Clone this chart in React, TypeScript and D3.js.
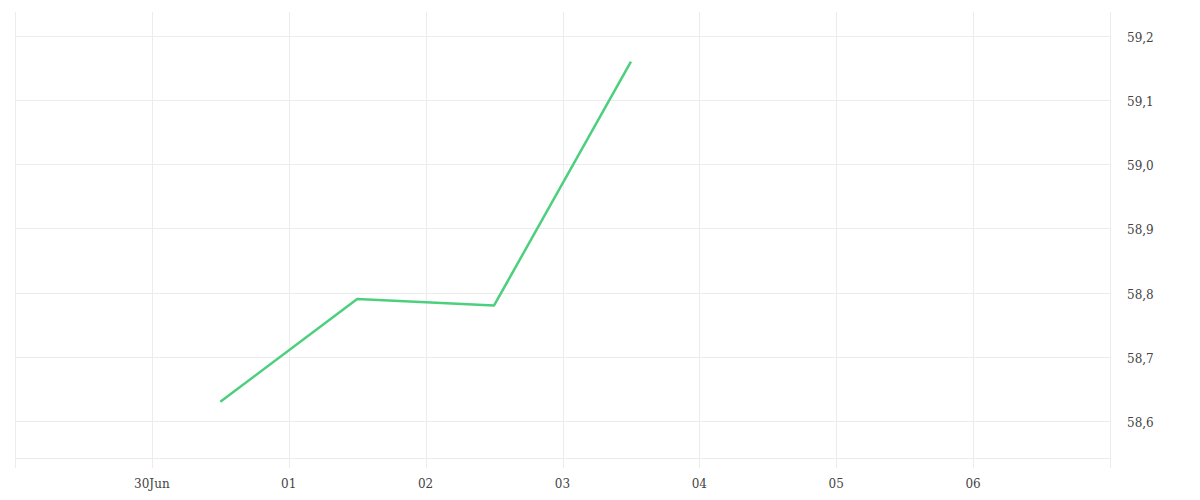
import React, { useEffect, useRef } from 'react';
import * as d3 from 'd3';

// series: one point per day, placed at midday
const pointDates = ['2025-06-30T12:00', '2025-07-01T12:00', '2025-07-02T12:00', '2025-07-03T12:00'];
const pointValues = [58.63, 58.79, 58.78, 59.16];

const dayTicks = ['2025-06-29', '2025-06-30', '2025-07-01', '2025-07-02', '2025-07-03', '2025-07-04', '2025-07-05', '2025-07-06', '2025-07-07'];
const dayLabels = ['', '30Jun', '01', '02', '03', '04', '05', '06', ''];
const valueTicks = [58.6, 58.7, 58.8, 58.9, 59.0, 59.1, 59.2];

const W = 1200;
const H = 500;

const App: React.FC = () => {
  const svgRef = useRef<SVGSVGElement>(null);

  useEffect(() => {
    if (!svgRef.current) return;
    const svg = d3.select(svgRef.current);
    svg.selectAll('*').remove();

    const left = 15, right = 1110, top = 12, bottom = 458;
    const parse = (s: string) => new Date(s);

    const x = d3.scaleTime()
      .domain([parse('2025-06-29T00:00'), parse('2025-07-07T00:00')])
      .range([left, right]);
    const y = d3.scaleLinear()
      .domain([58.5423, 59.2374])
      .range([bottom, top]);

    const grid = svg.append('g').attr('stroke', '#ececec').attr('stroke-width', 1);

    // vertical grid lines + tick stubs below the plot
    grid.selectAll('line.v')
      .data(dayTicks)
      .join('line')
      .attr('class', 'v')
      .attr('x1', d => Math.round(x(parse(d + 'T00:00'))) + 0.5)
      .attr('x2', d => Math.round(x(parse(d + 'T00:00'))) + 0.5)
      .attr('y1', top)
      .attr('y2', bottom + 10);

    // horizontal grid lines
    grid.selectAll('line.h')
      .data(valueTicks)
      .join('line')
      .attr('class', 'h')
      .attr('x1', left)
      .attr('x2', right)
      .attr('y1', d => Math.round(y(d)) + 0.5)
      .attr('y2', d => Math.round(y(d)) + 0.5);

    grid.append('line')
      .attr('x1', left).attr('x2', right)
      .attr('y1', bottom + 0.5).attr('y2', bottom + 0.5);

    // x labels
    svg.append('g')
      .selectAll('text')
      .data(dayTicks.map((d, i) => ({ d, label: dayLabels[i] })).filter(t => t.label))
      .join('text')
      .attr('x', t => x(parse(t.d + 'T00:00')))
      .attr('y', 488)
      .attr('text-anchor', 'middle')
      .attr('font-family', '"DejaVu Serif", serif')
      .attr('font-size', 12)
      .attr('fill', '#444')
      .text(t => t.label);

    // y labels on the right
    const fmt = (v: number) => v.toFixed(1).replace('.', ',');
    svg.append('g')
      .selectAll('text')
      .data(valueTicks)
      .join('text')
      .attr('x', 1127)
      .attr('y', d => y(d) + 6)
      .attr('font-family', '"DejaVu Serif", serif')
      .attr('font-size', 12)
      .attr('fill', '#444')
      .text(d => fmt(d));

    const line = d3.line<number>()
      .x((_, i) => x(parse(pointDates[i])))
      .y(d => y(d));

    svg.append('path')
      .datum(pointValues)
      .attr('fill', 'none')
      .attr('stroke', '#4cd07d')
      .attr('stroke-width', 2.5)
      .attr('stroke-linejoin', 'round')
      .attr('d', line);
  }, []);

  return (
    <div style={{ position: 'absolute', left: 0, top: 0, width: W, height: H, background: '#fff' }}>
      <svg ref={svgRef} width={W} height={H} style={{ display: 'block' }} />
    </div>
  );
};

export default App;
